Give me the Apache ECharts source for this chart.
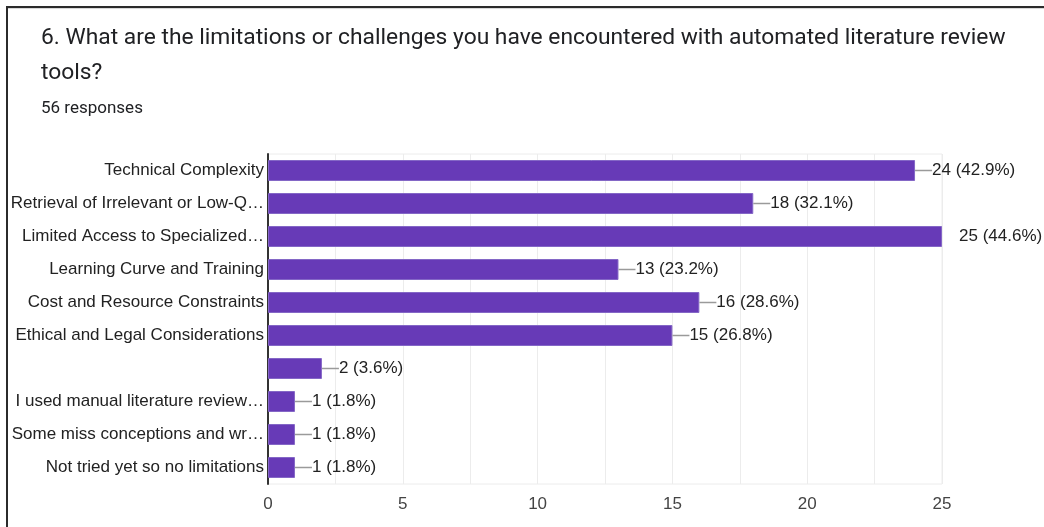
<!DOCTYPE html>
<html>
<head>
<meta charset="utf-8">
<script src="https://cdn.jsdelivr.net/npm/echarts@6/dist/echarts.min.js"></script>
<style>
  html, body { margin: 0; padding: 0; background: #fff; }
  #chart { position: absolute; left: 0; top: 0; width: 1044px; height: 527px; }
  #frame {
    position: absolute; left: 6px; top: 6px; width: 1038px; height: 521px;
    border-top: 2px solid #2b2b2b; border-left: 2px solid #2b2b2b;
    box-shadow: inset 0 1px 0 #d8d8d8;
    pointer-events: none;
  }
</style>
</head>
<body>
<div id="chart"></div>
<div id="frame"></div>
<script>
// Survey question 6: limitations of automated literature review tools
const totalResponses = 56;
const categories = [
  'Technical Complexity',
  'Retrieval of Irrelevant or Low-Q…',
  'Limited Access to Specialized…',
  'Learning Curve and Training',
  'Cost and Resource Constraints',
  'Ethical and Legal Considerations',
  '',
  'I used manual literature review…',
  'Some miss conceptions and wr…',
  'Not tried yet so no limitations'
];
const counts = [24, 18, 25, 13, 16, 15, 2, 1, 1, 1];
const axisMax = 25;

const chart = echarts.init(document.getElementById('chart'), null, { renderer: 'canvas' });

chart.setOption({
  animation: false,
  title: {
    text: '6. What are the limitations or challenges you have encountered with automated literature review\ntools?',
    subtext: totalResponses + ' responses',
    left: 36,
    top: 16,
    itemGap: 9,
    textStyle: {
      fontFamily: 'Roboto',
      fontSize: 22.8,
      fontWeight: 'normal',
      color: '#202124',
      lineHeight: 35
    },
    subtextStyle: {
      fontFamily: 'Roboto',
      fontSize: 17,
      color: '#202124'
    }
  },
  grid: {
    left: 268,
    right: 102,
    top: 154,
    bottom: 43,
    show: true,
    borderColor: '#ececec',
    borderWidth: 1
  },
  xAxis: {
    type: 'value',
    min: 0,
    max: axisMax,
    interval: 2.5,
    axisLine: { show: false },
    axisTick: { show: false },
    splitLine: { lineStyle: { color: '#ececec', width: 1 } },
    axisLabel: {
      margin: 12,
      fontFamily: 'Liberation Sans',
      fontSize: 17,
      color: '#444',
      formatter: v => (v % 5 === 0 ? String(v) : '')
    }
  },
  yAxis: {
    type: 'category',
    inverse: true,
    data: categories,
    axisLine: { show: true, lineStyle: { color: '#333', width: 2 } },
    axisTick: { show: false },
    splitLine: { show: false },
    axisLabel: {
      margin: 4,
      fontFamily: 'Liberation Sans',
      fontSize: 17,
      color: '#222'
    }
  },
  series: [{
    type: 'bar',
    data: counts,
    barWidth: 21,
    itemStyle: { color: '#673ab7', borderColor: '#8467c6', borderWidth: 1 },
    label: {
      show: true,
      position: 'right',
      distance: 0,
      formatter: p => {
        const pct = (p.value / totalResponses * 100).toFixed(1);
        const lead = p.value >= axisMax ? '{gap|}' : '{ln|}';
        return lead + '{t|' + p.value + ' (' + pct + '%)}';
      },
      rich: {
        ln: { width: 17, height: 1.5, backgroundColor: '#9a9a9a', verticalAlign: 'middle' },
        gap: { width: 17, height: 1, verticalAlign: 'middle' },
        t: {
          fontFamily: 'Liberation Sans',
          fontSize: 17,
          color: '#222',
          verticalAlign: 'middle'
        }
      }
    }
  }]
});
</script>
</body>
</html>
